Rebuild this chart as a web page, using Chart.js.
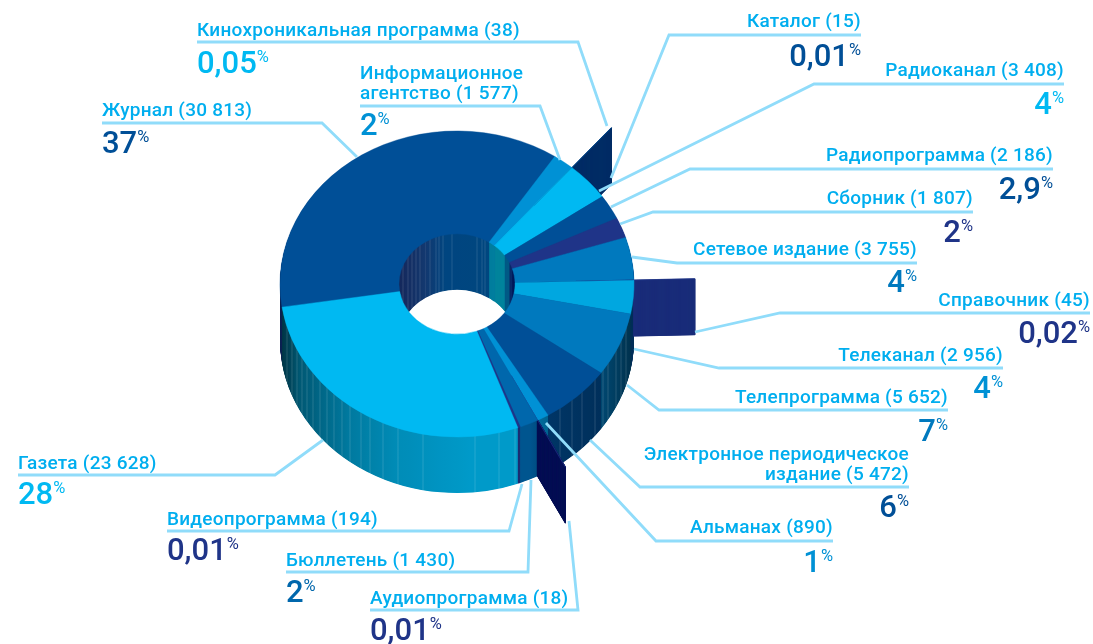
<!DOCTYPE html>
<html lang="ru">
<head>
<meta charset="utf-8">
<style>html,body{margin:0;padding:0;background:#fff}#w{position:relative;width:1093px;height:644px}#w canvas{display:block}</style>
<script src="https://cdn.jsdelivr.net/npm/chart.js@4"></script>
</head>
<body>
<div id="w"><canvas id="c"></canvas></div>
<script>
// ---- data, clockwise from the start of the largest slice ----
const names = ["Журнал","Информационное\nагентство","Кинохроникальная программа","Каталог","Радиоканал","Радиопрограмма","Сборник","Сетевое издание","Справочник","Телеканал","Телепрограмма","Электронное периодическое\nиздание","Альманах","Аудиопрограмма","Бюллетень","Видеопрограмма","Газета"];
const counts = [30813,1577,38,15,3408,2186,1807,3755,45,2956,5652,5472,890,18,1430,194,23628];
const shares = ["37","2","0,05","0,01","4","2,9","2","4","0,02","4","7","6","1","0,01","2","0,01","28"];

// ---- styles ----
const topColors = ["#004f97","#0091d5","#00b9f2","#004f97","#00b9f2","#004f97","#1f3488","#0079be","#1f3488","#00a7e0","#0079be","#004f97","#0091d5","#1f3488","#0067ac","#1f3488","#00b9f2"];
const numColors = ["#004f97","#0091d5","#00b9f2","#004f97","#00b9f2","#004f97","#1f3488","#0079be","#1f3488","#0091d5","#0079be","#004f97","#0091d5","#1f3488","#0067ac","#1f3488","#00b9f2"];
const pulled = [0,0,0,122,0,0,0,0,122,0,0,0,0,122,0,0,0];
// flat colour of the hidden/far sides (null = shaded outer wall)
const farSide = [null,"#007e9e","#007e9e","#002e66","#00839c","#005a86","#0a2a6a","#001a5c","#1a2d7a","#00305a",null,null,null,"#060f55",null,null,null];
const journalSide = [[270,"#0a1f50"],[400,"#14285c"],[425,"#13386f"],[445,"#004580"],[495,"#00467f"]];
const outerShade = [[280,.26],[300,.48],[350,.66],[400,.76],[470,.83],[530,.83],[545,.68],[600,.6],[625,.45],[640,.35]];
const outerFacets = [287,292,297,302,307,313,320,327,334,342,350,361,370,383,398,423,475,499,515,560,572,582,595,603,608,616,621,626];
const holeFacets = [403,408,412,416,420,425,430,436,439,443,452,477,482,485];
const DEPTH = 56, SQUASH = 153/177;
const LABEL = "#00aeef", LEAD = "#90dcfa";

// ---- callout layout: anchor x, alignment, label baseline, number baseline, leader ----
const callouts = [
 {x:102,a:"left",b:116,n:153,l:[[102,123],[322,123],[357,157]]},
 {x:360,a:"left",b:99,n:135,l:[[360,106],[540,106],[560,160]]},
 {x:197,a:"left",b:36,n:73,l:[[197,42],[578,42],[607,126]]},
 {x:861,a:"right",b:27,n:66,l:[[861,35],[669,35],[611,178]]},
 {x:1064,a:"right",b:76,n:114,l:[[1064,84],[814,84],[599,191]]},
 {x:1053,a:"right",b:161,n:199,l:[[1053,169],[690,169],[611,207]]},
 {x:973,a:"right",b:204,n:242,l:[[973,212],[653,212],[620,224]]},
 {x:917,a:"right",b:255,n:292,l:[[917,263],[677,263],[632,257]]},
 {x:1090,a:"right",b:306,n:343,l:[[1090,313],[780,313],[695,332]]},
 {x:1003,a:"right",b:361,n:398,l:[[1003,368],[719,368],[634,349]]},
 {x:948,a:"right",b:403,n:441,l:[[948,410],[659,410],[627,385]]},
 {x:909,a:"right",b:480,n:517,l:[[909,487],[640,487],[590,440]]},
 {x:833,a:"right",b:533,n:572,l:[[833,541],[656,541],[546,423]]},
 {x:370,a:"left",b:604,n:640,l:[[370,610],[578,610],[569,521]]},
 {x:286,a:"left",b:566,n:602,l:[[286,572],[528,572],[531,480]]},
 {x:167,a:"left",b:525,n:560,l:[[167,531],[509,531],[522,484]]},
 {x:18,a:"left",b:469,n:504,l:[[18,475],[275,475],[323,440]]},
];

function hexRgb(h){return [1,3,5].map(i=>parseInt(h.substr(i,2),16));}
function css(c){return `rgb(${c.map(v=>Math.round(v)).join(",")})`;}
function shadeAt(x){
  for(let i=1;i<outerShade.length;i++){
    if(x<=outerShade[i][0]){
      const [x0,f0]=outerShade[i-1],[x1,f1]=outerShade[i];
      return f0+(f1-f0)*Math.max(0,(x-x0))/(x1-x0);
    }
  }
  return outerShade[outerShade.length-1][1];
}
const GX0=260,GX1=700;
const pos=x=>Math.min(1,Math.max(0,(x-GX0)/(GX1-GX0)));
function outerFill(ctx,hex){
  const g=ctx.createLinearGradient(GX0,0,GX1,0), rgb=hexRgb(hex);
  const col=(x,m)=>{const f=shadeAt(x);return css(rgb.map(v=>{const s=v*f;return s+(255-s)*m;}));};
  const xs=[];for(let x=GX0;x<=GX1;x+=10)xs.push(x);
  const near=x=>outerFacets.some(f=>Math.abs(f-x)<1.2);
  xs.filter(x=>!near(x)).forEach(x=>g.addColorStop(pos(x),col(x,0)));
  outerFacets.forEach(x=>{
    g.addColorStop(pos(x-.7),col(x,0));
    g.addColorStop(pos(x),col(x,.25));
    g.addColorStop(pos(x+.7),col(x,0));
  });
  return g;
}
function journalFill(ctx){
  const g=ctx.createLinearGradient(GX0,0,GX1,0);
  const stops=journalSide.map(s=>[s[0],hexRgb(s[1])]);
  const at=x=>{for(let i=1;i<stops.length;i++){if(x<=stops[i][0]){const a=stops[i-1],b=stops[i],t=(x-a[0])/(b[0]-a[0]);return a[1].map((v,k)=>v+(b[1][k]-v)*t);}}return stops[stops.length-1][1];};
  stops.forEach(s=>g.addColorStop(pos(s[0]),css(s[1])));
  holeFacets.forEach(x=>{
    const c=at(x);
    g.addColorStop(pos(x-.6),css(c));
    g.addColorStop(pos(x),css(c.map(v=>v+(255-v)*.38)));
    g.addColorStop(pos(x+.6),css(c));
  });
  return g;
}
function squash(ctx,cy,dy){ctx.translate(0,cy+dy);ctx.scale(1,SQUASH);ctx.translate(0,-cy);}

const extrude={
  id:"extrude",
  beforeDatasetsDraw(chart){
    const ctx=chart.ctx, arcs=chart.getDatasetMeta(0).data, cx=arcs[0].x, cy=arcs[0].y, R=arcs[0].outerRadius;
    const fills=arcs.map((a,i)=> i===0?journalFill(ctx):(farSide[i]||outerFill(ctx,topColors[i])));
    const paint=(i,d)=>{
      const a=arcs[i],o=a.options,opt=Object.create(o);
      opt.backgroundColor=fills[i];
      if(pulled[i]){opt.borderWidth=1.2;opt.borderColor=fills[i];}else{opt.borderWidth=0;}
      a.options=opt;
      ctx.save();squash(ctx,cy,d);
      if(pulled[i]){ // the part of a pulled-out slice inside the ring stays hidden in the solid
        ctx.beginPath();ctx.rect(-2000,-2000,6000,6000);ctx.arc(cx,cy,R-.5,0,Math.PI*2);ctx.clip("evenodd");
      }
      a.draw(ctx);ctx.restore();
      a.options=o;
    };
    for(let d=DEPTH;d>=.5;d-=.5){arcs.forEach((a,i)=>{if(!pulled[i])paint(i,d);});}
    for(let d=DEPTH;d>=.25;d-=.25){arcs.forEach((a,i)=>{if(pulled[i])paint(i,d);});}
    ctx.save();squash(ctx,cy,0);
  },
  afterDatasetsDraw(chart){chart.ctx.restore();},
  afterDraw(chart){
    const ctx=chart.ctx;
    ctx.save();
    ctx.strokeStyle=LEAD;ctx.lineWidth=2.8;ctx.lineJoin="miter";
    callouts.forEach(c=>{ctx.beginPath();c.l.forEach((p,k)=>k?ctx.lineTo(p[0],p[1]):ctx.moveTo(p[0],p[1]));ctx.stroke();});
    ctx.textBaseline="alphabetic";
    callouts.forEach((c,i)=>{
      const lines=(names[i]+" ("+fmt(counts[i])+")").split("\n");
      ctx.fillStyle=LABEL;ctx.textAlign=c.a;
      ctx.font='500 19px Roboto';ctx.letterSpacing="0.25px";
      lines.forEach((t,k)=>ctx.fillText(t,c.x,c.b-(lines.length-1-k)*20));
      // share number + superscript percent
      ctx.letterSpacing="0px";
      ctx.font='16.5px Roboto';const pw=ctx.measureText("%").width;
      ctx.font='500 31px Roboto';
      const nw=ctx.measureText(shares[i]).width;
      const left=c.a==="right"?c.x-pw-nw:c.x;
      ctx.textAlign="left";ctx.fillStyle=numColors[i];
      ctx.fillText(shares[i],left,c.n);
      ctx.font='16.5px Roboto';
      ctx.fillText("%",left+nw,c.n-11);
    });
    ctx.restore();
  }
};
function fmt(v){return String(v).replace(/\B(?=(\d{3})+$)/g," ");}

new Chart(document.getElementById("c"),{
  type:"doughnut",
  data:{labels:names,datasets:[{data:counts,backgroundColor:topColors,borderColor:topColors,borderWidth:.5,offset:pulled,hoverOffset:0,clip:false}]},
  options:{
    responsive:true,maintainAspectRatio:false,animation:false,
    rotation:-98.7,radius:177,cutout:"32.8%",
    layout:{padding:{left:0,top:0,right:179,bottom:76}},
    events:[],
    plugins:{legend:{display:false},tooltip:{enabled:false}}
  },
  plugins:[extrude]
});
</script>
</body>
</html>
